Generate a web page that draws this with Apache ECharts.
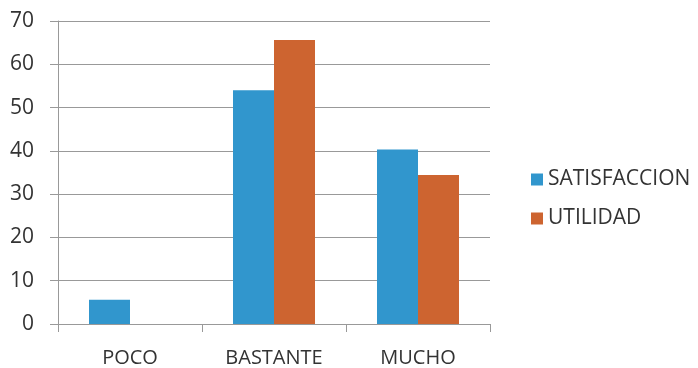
<!DOCTYPE html>
<html>
<head>
<meta charset="utf-8">
<script src="https://cdn.jsdelivr.net/npm/echarts@6/dist/echarts.min.js"></script>
<style>
  html, body { margin: 0; padding: 0; background: #fff; }
  #chart { width: 698px; height: 368px; }
</style>
</head>
<body>
<div id="chart"></div>
<script>
var categories = ['POCO', 'BASTANTE', 'MUCHO'];
var satisfaccion = [5.6, 54, 40.3];
var utilidad = [0, 65.6, 34.4];
var yTicks = [0, 10, 20, 30, 40, 50, 60, 70];

var myChart = echarts.init(document.getElementById('chart'));

var option = {
    animation: false,
    textStyle: { fontFamily: 'Open Sans' },
    grid: { left: 58, right: 208, top: 21, bottom: 44 },
    legend: {
        orient: 'vertical',
        left: 526,
        top: 164,
        itemWidth: 12,
        itemHeight: 12,
        itemGap: 18,
        icon: 'rect',
        textStyle: { fontSize: 21, color: '#333', fontFamily: 'Open Sans' },
        data: ['SATISFACCION', 'UTILIDAD']
    },
    xAxis: {
        type: 'category',
        data: categories,
        axisLine: { lineStyle: { color: '#999', width: 1 } },
        axisTick: { show: true, length: 8, lineStyle: { color: '#999' } },
        axisLabel: { fontSize: 20, color: '#333', margin: 24 }
    },
    yAxis: {
        type: 'value',
        min: yTicks[0],
        max: yTicks[yTicks.length - 1],
        interval: 10,
        axisLine: { show: true, lineStyle: { color: '#999', width: 1 } },
        axisTick: { show: true, length: 8, lineStyle: { color: '#999' } },
        splitLine: { lineStyle: { color: '#999', width: 1 } },
        axisLabel: { fontSize: 21, color: '#333', margin: 24 }
    },
    series: [{
        name: 'SATISFACCION',
        type: 'bar',
        data: satisfaccion,
        barWidth: 41,
        barGap: '0%',
        itemStyle: { color: '#3196cd' }
    }, {
        name: 'UTILIDAD',
        type: 'bar',
        data: utilidad,
        barWidth: 41,
        itemStyle: { color: '#cd6430' }
    }]
};

myChart.setOption(option);
</script>
</body>
</html>
